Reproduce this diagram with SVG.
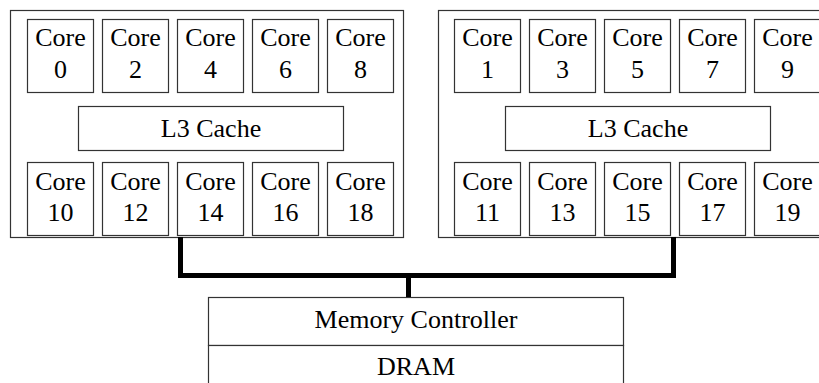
<svg xmlns="http://www.w3.org/2000/svg" width="819" height="383" viewBox="0 0 819 383">
  <style>
    .box { fill: #fff; stroke: #333; stroke-width: 1.2; }
    .bus { fill: none; stroke: #000; stroke-width: 5; stroke-linejoin: miter; }
  </style>
  <defs>
    <rect id="core-box" class="box" x="0" y="0" width="66" height="73"/>
  </defs>
  <rect width="819" height="383" fill="#fff"/>

  <g font-family="Liberation Serif" font-size="26" fill="#000" text-anchor="middle">
  <!-- socket 0 -->
  <g id="socket0">
    <rect class="box" x="10.5" y="10.5" width="393" height="227"/>
    <g id="core0"><use href="#core-box" x="27.5" y="19.5"/><text x="60.5" y="46">Core</text><text x="60.5" y="78">0</text></g>
    <g id="core2"><use href="#core-box" x="102.5" y="19.5"/><text x="135.5" y="46">Core</text><text x="135.5" y="78">2</text></g>
    <g id="core4"><use href="#core-box" x="177.5" y="19.5"/><text x="210.5" y="46">Core</text><text x="210.5" y="78">4</text></g>
    <g id="core6"><use href="#core-box" x="252.5" y="19.5"/><text x="285.5" y="46">Core</text><text x="285.5" y="78">6</text></g>
    <g id="core8"><use href="#core-box" x="327.5" y="19.5"/><text x="360.5" y="46">Core</text><text x="360.5" y="78">8</text></g>
    <g id="l3-0"><rect class="box" x="78.5" y="106.5" width="265" height="44"/><text x="211" y="137">L3 Cache</text></g>
    <g id="core10"><use href="#core-box" x="27.5" y="162.5"/><text x="60.5" y="190">Core</text><text x="60.5" y="221">10</text></g>
    <g id="core12"><use href="#core-box" x="102.5" y="162.5"/><text x="135.5" y="190">Core</text><text x="135.5" y="221">12</text></g>
    <g id="core14"><use href="#core-box" x="177.5" y="162.5"/><text x="210.5" y="190">Core</text><text x="210.5" y="221">14</text></g>
    <g id="core16"><use href="#core-box" x="252.5" y="162.5"/><text x="285.5" y="190">Core</text><text x="285.5" y="221">16</text></g>
    <g id="core18"><use href="#core-box" x="327.5" y="162.5"/><text x="360.5" y="190">Core</text><text x="360.5" y="221">18</text></g>
  </g>

  <!-- socket 1 -->
  <g id="socket1">
    <rect class="box" x="438.5" y="10.5" width="393" height="227"/>
    <g id="core1"><use href="#core-box" x="454.5" y="19.5"/><text x="487.5" y="46">Core</text><text x="487.5" y="78">1</text></g>
    <g id="core3"><use href="#core-box" x="529.5" y="19.5"/><text x="562.5" y="46">Core</text><text x="562.5" y="78">3</text></g>
    <g id="core5"><use href="#core-box" x="604.5" y="19.5"/><text x="637.5" y="46">Core</text><text x="637.5" y="78">5</text></g>
    <g id="core7"><use href="#core-box" x="679.5" y="19.5"/><text x="712.5" y="46">Core</text><text x="712.5" y="78">7</text></g>
    <g id="core9"><use href="#core-box" x="754.5" y="19.5"/><text x="787.5" y="46">Core</text><text x="787.5" y="78">9</text></g>
    <g id="l3-1"><rect class="box" x="505.5" y="106.5" width="265" height="44"/><text x="638" y="137">L3 Cache</text></g>
    <g id="core11"><use href="#core-box" x="454.5" y="162.5"/><text x="487.5" y="190">Core</text><text x="487.5" y="221">11</text></g>
    <g id="core13"><use href="#core-box" x="529.5" y="162.5"/><text x="562.5" y="190">Core</text><text x="562.5" y="221">13</text></g>
    <g id="core15"><use href="#core-box" x="604.5" y="162.5"/><text x="637.5" y="190">Core</text><text x="637.5" y="221">15</text></g>
    <g id="core17"><use href="#core-box" x="679.5" y="162.5"/><text x="712.5" y="190">Core</text><text x="712.5" y="221">17</text></g>
    <g id="core19"><use href="#core-box" x="754.5" y="162.5"/><text x="787.5" y="190">Core</text><text x="787.5" y="221">19</text></g>
  </g>

  <!-- memory -->
  <g id="memory-controller">
    <rect class="box" x="208.5" y="297.5" width="415" height="48"/>
    <text x="416" y="328">Memory Controller</text>
  </g>
  <g id="dram">
    <rect class="box" x="208.5" y="345.5" width="415" height="50"/>
    <text x="416" y="375">DRAM</text>
  </g>
  </g>

  <!-- interconnect -->
  <g id="connectors">
    <path class="bus" d="M180.5 237 V275.5 H673.5 V237"/>
    <path class="bus" d="M408.5 275.5 V297"/>
  </g>
</svg>
